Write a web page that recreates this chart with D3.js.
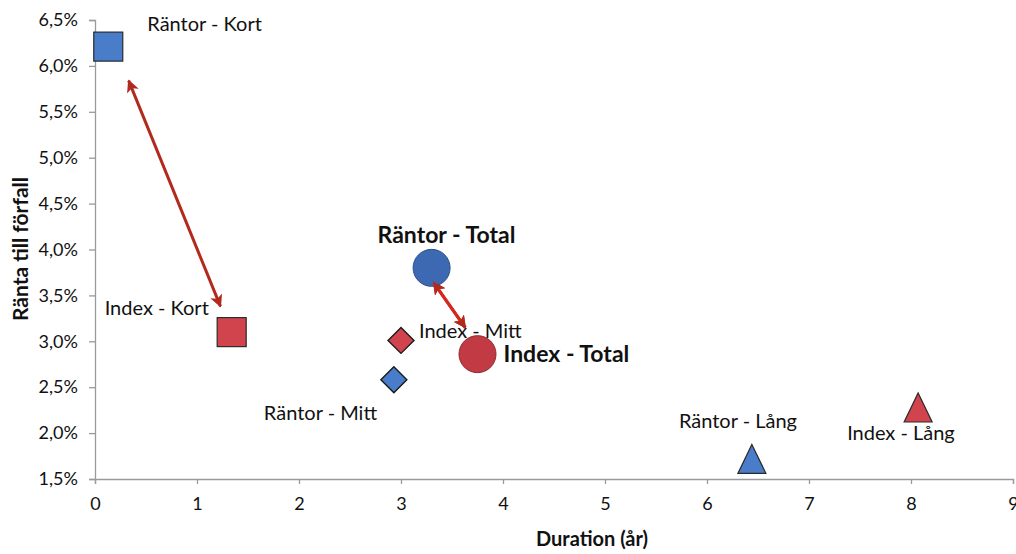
<!DOCTYPE html>
<html><head><meta charset="utf-8">
<script src="https://cdn.jsdelivr.net/npm/d3@7"></script>
<style>body{margin:0;background:#fff;} svg{display:block;}</style>
</head><body><svg id="c" width="1016" height="554"></svg>
<script>
// ---- data ----
const names = ["Räntor - Kort","Index - Kort","Räntor - Mitt","Index - Mitt","Räntor - Lång","Index - Lång","Räntor - Total","Index - Total"];
const duration = [0.13, 1.34, 2.93, 3.00, 6.44, 8.07, 3.30, 3.75];
const yieldPct = [6.21, 3.10, 2.58, 3.01, 1.67, 2.23, 3.80, 2.86];
const shapes = ["square","square","diamond","diamond","triangle","triangle","circle","circle"];
const group = ["r","i","r","i","r","i","r","i"];
// label offsets (px)
const labelDx = [39, -127, -130, 18, -73, -71, -54, 26];
const labelDy = [-16, -17, 40, -2, -35, 28, -25, 8];
const labelBold = [false,false,false,false,false,false,true,true];
const xTicks = [0,1,2,3,4,5,6,7,8,9];
const yTicks = [1.5,2.0,2.5,3.0,3.5,4.0,4.5,5.0,5.5,6.0,6.5];
// arrow annotations [x1,y1,x2,y2] in data units
const arrows = [[0.33,5.84,1.23,3.38],[3.32,3.64,3.63,3.15]];

const svg = d3.select("#c");
const x = d3.scaleLinear().domain([0,9]).range([95,1013]);
const y = d3.scaleLinear().domain([1.5,6.5]).range([479,20]);
const font = "Lato, 'Open Sans', sans-serif";

const defs = svg.append("defs");
["s","e"].forEach(k=>{
  defs.append("marker").attr("id","ah"+k).attr("viewBox","0 0 10 10")
    .attr("refX",9).attr("refY",5).attr("markerWidth",4.2).attr("markerHeight",4.2)
    .attr("orient", k==="s" ? "auto-start-reverse" : "auto")
    .attr("markerUnits","strokeWidth")
    .append("path").attr("d","M0,0 L10,5 L0,10 L2.5,5 Z").attr("fill","#b2291d");
});

// axes
const xAxis = svg.append("g").attr("transform","translate(0,479)")
  .call(d3.axisBottom(x).tickValues(xTicks).tickSize(5).tickPadding(13).tickFormat(d3.format("d")));
const yAxis = svg.append("g").attr("transform","translate(95,0)")
  .call(d3.axisLeft(y).tickValues(yTicks).tickSize(6).tickPadding(11)
  .tickFormat(d => d3.format(".1f")(d).replace(".",",")+"%"));
[xAxis,yAxis].forEach(a=>{
  a.selectAll("path").attr("stroke","#9a9a9a").attr("stroke-width",1.3);
  a.selectAll("line").attr("stroke","#9a9a9a").attr("stroke-width",1.3);
  a.selectAll("text").attr("font-family",font).attr("font-size",18).attr("fill","#111");
});

// arrows
svg.selectAll(".arr").data(arrows).join("line")
  .attr("x1",d=>x(d[0])).attr("y1",d=>y(d[1])).attr("x2",d=>x(d[2])).attr("y2",d=>y(d[3]))
  .attr("stroke","#b2291d").attr("stroke-width",3)
  .attr("marker-start","url(#ahs)").attr("marker-end","url(#ahe)");

// points
const fill = {r:"#4a7dc9", i:"#d2444d"};
const circFill = {r:"#3d69b3", i:"#c23a43"};
const idx = d3.range(names.length);
idx.forEach(i=>{
  const cx = x(duration[i]), cy = y(yieldPct[i]);
  const g = svg.append("g");
  if (shapes[i]==="square") {
    g.append("rect").attr("x",cx-14.5).attr("y",cy-14.5).attr("width",29).attr("height",29)
      .attr("fill",fill[group[i]]).attr("stroke","#2a2a2a").attr("stroke-width",1.2);
  } else if (shapes[i]==="diamond") {
    g.append("path").attr("d",`M${cx},${cy-13} L${cx+13},${cy} L${cx},${cy+13} L${cx-13},${cy} Z`)
      .attr("fill",fill[group[i]]).attr("stroke","#1a1a1a").attr("stroke-width",1.4);
  } else if (shapes[i]==="triangle") {
    g.append("path").attr("d",`M${cx},${cy-19} L${cx+14},${cy+10} L${cx-14},${cy+10} Z`)
      .attr("fill",fill[group[i]]).attr("stroke","#2a2a2a").attr("stroke-width",1.2);
  } else {
    g.append("circle").attr("cx",cx).attr("cy",cy).attr("r",18.5)
      .attr("fill",circFill[group[i]]).attr("stroke", group[i]==="r"?"#2d4f8a":"#8f2a30").attr("stroke-width",1);
  }
});
// arrow 2 drawn over the circles as in the reference
svg.append("line").datum(arrows[1])
  .attr("x1",d=>x(d[0])).attr("y1",d=>y(d[1])).attr("x2",d=>x(d[2])).attr("y2",d=>y(d[3]))
  .attr("stroke","#d8261a").attr("stroke-width",3)
  .attr("marker-start","url(#ahs)").attr("marker-end","url(#ahe)");

// labels
idx.forEach(i=>{
  svg.append("text").attr("x",x(duration[i])+labelDx[i]).attr("y",y(yieldPct[i])+labelDy[i])
    .attr("font-family",font).attr("font-size",labelBold[i]?23:20)
    .attr("font-weight",labelBold[i]?"bold":"normal").attr("fill","#111")
    .text(names[i]);
});

// axis titles
svg.append("text").attr("x",592).attr("y",546).attr("text-anchor","middle")
  .attr("font-family",font).attr("font-weight","bold").attr("font-size",20).attr("fill","#111")
  .text("Duration (år)");
svg.append("text").attr("transform","translate(28,249) rotate(-90)").attr("text-anchor","middle")
  .attr("font-family",font).attr("font-weight","bold").attr("font-size",21).attr("fill","#111")
  .text("Ränta till förfall");
</script></body></html>
